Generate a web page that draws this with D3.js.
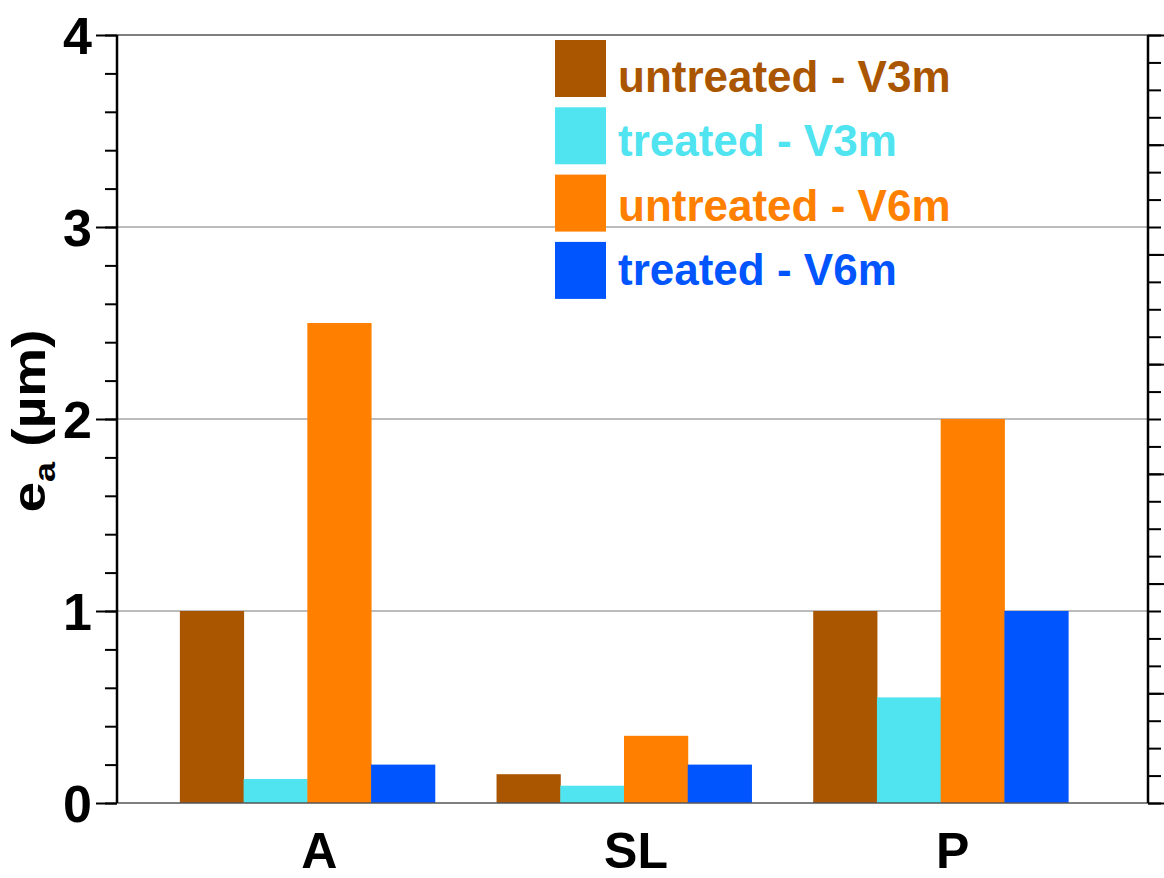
<!DOCTYPE html>
<html>
<head>
<meta charset="utf-8">
<script src="https://cdn.jsdelivr.net/npm/d3@7"></script>
<style>
  body { margin: 0; background: #fff; }
  text { font-family: "Liberation Sans", Arial, sans-serif; font-weight: bold; }
</style>
</head>
<body>
<div id="container"></div>
<script>
/* DATA */
var categories = ["A", "SL", "P"];
var seriesNames = ["untreated - V3m", "treated - V3m", "untreated - V6m", "treated - V6m"];
var seriesColors = ["#aa5500", "#50e3f0", "#ff8000", "#0055ff"];
var untreatedV3m = [1.0, 0.15, 1.0];
var treatedV3m = [0.125, 0.09, 0.55];
var untreatedV6m = [2.5, 0.35, 2.0];
var treatedV6m = [0.2, 0.2, 1.0];
var yTicks = [0, 1, 2, 3, 4];

var allSeries = [untreatedV3m, treatedV3m, untreatedV6m, treatedV6m];

var W = 1164, H = 878;
var plotLeft = 117, plotRight = 1148, plotTop = 35, plotBottom = 803;

var svg = d3.select("#container")
  .append("svg")
  .attr("width", W)
  .attr("height", H);

// SCALES
var y = d3.scaleLinear().domain([0, 4]).range([plotBottom, plotTop]);
var x0 = d3.scaleBand()
  .domain(categories)
  .range([149, 1099])
  .paddingInner(0.195)
  .paddingOuter(0.0975);
var x1 = d3.scaleBand()
  .domain(d3.range(seriesNames.length))
  .range([0, x0.bandwidth()]);

// gridlines
svg.append("g")
  .selectAll("line")
  .data([1, 2, 3])
  .enter()
  .append("line")
  .attr("x1", plotLeft).attr("x2", plotRight)
  .attr("y1", d => y(d)).attr("y2", d => y(d))
  .attr("stroke", "#a6a6a6")
  .attr("stroke-width", 1.5);

// top frame
svg.append("line")
  .attr("x1", plotLeft).attr("x2", plotRight)
  .attr("y1", y(4)).attr("y2", y(4))
  .attr("stroke", "#555").attr("stroke-width", 1.5);

// bars
var groups = svg.append("g")
  .selectAll("g")
  .data(categories)
  .enter()
  .append("g")
  .attr("transform", d => "translate(" + x0(d) + ",0)");

groups.selectAll("rect")
  .data((c, i) => allSeries.map((s, k) => ({ k: k, v: s[i] })))
  .enter()
  .append("rect")
  .attr("x", d => x1(d.k))
  .attr("y", d => y(d.v))
  .attr("width", x1.bandwidth() + 0.5)
  .attr("height", d => y(0) - y(d.v))
  .attr("fill", d => seriesColors[d.k]);

// bottom frame
svg.append("line")
  .attr("x1", plotLeft).attr("x2", plotRight)
  .attr("y1", y(0)).attr("y2", y(0))
  .attr("stroke", "#555").attr("stroke-width", 1.5);

// left axis: major + minor ticks
var minorAxis = svg.append("g")
  .attr("transform", "translate(" + plotLeft + ",0)")
  .call(d3.axisLeft(y).tickValues(d3.range(0, 4.01, 0.2)).tickSize(12).tickFormat(""));
minorAxis.select(".domain").remove();

var yAxis = svg.append("g")
  .attr("transform", "translate(" + plotLeft + ",0)")
  .call(d3.axisLeft(y).tickValues(yTicks).tickSize(21).tickSizeOuter(0).tickPadding(4).tickFormat(d3.format("d")));
yAxis.selectAll("text")
  .style("font-size", "52px")
  .attr("dy", "0.36em")
  .attr("fill", "#000");
yAxis.select(".domain")
  .attr("stroke", "#000").attr("stroke-width", 2.5)
  .attr("d", "M0," + y(0) + "V" + y(4));

// right axis: secondary scale without labels
var yR = d3.scaleLinear().domain([0, 28]).range([plotBottom, plotTop]);
var rMinor = svg.append("g")
  .attr("transform", "translate(" + plotRight + ",0)")
  .call(d3.axisRight(yR).tickValues(d3.range(0, 29)).tickSize(13).tickFormat(""));
rMinor.select(".domain").remove();
var rMajor = svg.append("g")
  .attr("transform", "translate(" + plotRight + ",0)")
  .call(d3.axisRight(yR).tickValues(d3.range(0, 29, 4)).tickSize(16).tickSizeOuter(0).tickFormat(""));
rMajor.select(".domain")
  .attr("stroke", "#000").attr("stroke-width", 2.5)
  .attr("d", "M0," + yR(0) + "V" + yR(28));
svg.selectAll(".tick line").attr("stroke", "#000").attr("stroke-width", 2);

// category labels
svg.append("g")
  .selectAll("text")
  .data(categories)
  .enter()
  .append("text")
  .attr("x", d => x0(d) + x0.bandwidth() / 2 + 12)
  .attr("y", 868)
  .attr("text-anchor", "middle")
  .style("font-size", "50px")
  .text(d => d);

// y title
var yTitle = svg.append("text")
  .attr("transform", "translate(45,421) rotate(-90)")
  .attr("text-anchor", "middle")
  .style("font-size", "46px");
yTitle.append("tspan").text("e");
yTitle.append("tspan").attr("dy", 10).style("font-size", "30px").text("a");
yTitle.append("tspan").attr("dy", -10).text(" (\u00b5m)");
yTitle.attr("textLength", 183).attr("lengthAdjust", "spacingAndGlyphs");

// legend
var legend = svg.append("g")
  .selectAll("g")
  .data(seriesNames)
  .enter()
  .append("g");

legend.append("rect")
  .attr("x", 555)
  .attr("y", (d, i) => 40 + i * 67.3)
  .attr("width", 51)
  .attr("height", 57)
  .attr("fill", (d, i) => seriesColors[i]);

legend.append("text")
  .attr("x", 618)
  .attr("y", (d, i) => 92 + i * 64.3)
  .style("font-size", "44px")
  .attr("fill", (d, i) => seriesColors[i])
  .text(d => d);
</script>
</body>
</html>
